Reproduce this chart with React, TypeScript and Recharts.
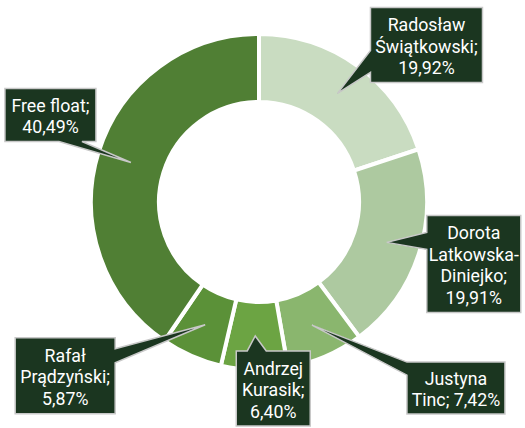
import React from 'react';
import { PieChart, Pie, Cell } from 'recharts';

// shareholders, clockwise from 12 o'clock
const NAMES = ['Radosław\nŚwiątkowski', 'Dorota\nLatkowska-\nDiniejko', 'Justyna\nTinc', 'Andrzej\nKurasik', 'Rafał\nPrądzyński', 'Free float'];
const SHARES = [19.92, 19.91, 7.42, 6.4, 5.87, 40.49];
// value goes on its own line (true) or after the name on the same line (false)
const VALUE_BREAK = [true, true, false, true, true, true];

const COLORS = ['#c9dcc1', '#adc9a0', '#8ab66e', '#6ca443', '#5b9138', '#507f34'];

// callout box placement relative to the pointer tip (layout, not data)
const CALLOUTS = [
  { dx: 33, dy: -86, w: 112, h: 75, edge: 'left', a: 43, b: 65 },
  { dx: 40, dy: -27, w: 94, h: 97, edge: 'left', a: 17, b: 34 },
  { dx: 95, dy: 37, w: 98, h: 52, edge: 'left', a: 0, b: 13 },
  { dx: -19, dy: 15, w: 74, h: 75, edge: 'top', a: 11, b: 30 },
  { dx: -190, dy: 13, w: 100, h: 76, edge: 'right', a: 11, b: 25 },
  { dx: -126, dy: -74, w: 91, h: 53, edge: 'bottom', a: 54, b: 77 },
];

const data = NAMES.map((name, i) => ({ name, value: SHARES[i] }));

const RADIAN = Math.PI / 180;
const fmt = (v: number) => v.toFixed(2).replace('.', ',') + '%';

const calloutPath = (x: number, y: number, w: number, h: number, edge: string, a: number, b: number, tx: number, ty: number) => {
  const TL = [x, y], TR = [x + w, y], BR = [x + w, y + h], BL = [x, y + h];
  let pts: number[][];
  if (edge === 'top') pts = [TL, [x + a, y], [tx, ty], [x + b, y], TR, BR, BL];
  else if (edge === 'right') pts = [TL, TR, [x + w, y + a], [tx, ty], [x + w, y + b], BR, BL];
  else if (edge === 'bottom') pts = [TL, TR, BR, [x + b, y + h], [tx, ty], [x + a, y + h], BL];
  else pts = [TL, TR, BR, BL, [x, y + b], [tx, ty], [x, y + a]];
  return 'M' + pts.map(p => p.join(',')).join('L') + 'Z';
};

const renderCallout = (props: any) => {
  const { cx, cy, midAngle, innerRadius, outerRadius, index } = props;
  const r = (innerRadius + outerRadius) / 2;
  const tx = cx + r * Math.cos(-midAngle * RADIAN);
  const ty = cy + r * Math.sin(-midAngle * RADIAN);
  const c = CALLOUTS[index];
  const x = tx + c.dx;
  const y = ty + c.dy;
  const text = NAMES[index] + ';' + (VALUE_BREAK[index] ? '\n' : ' ') + fmt(SHARES[index]);
  const lines = text.split('\n');
  const lh = 21.5;
  const y0 = y + c.h / 2 - ((lines.length - 1) * lh) / 2 + 1;
  return (
    <g key={`callout-${index}`}>
      <path d={calloutPath(x, y, c.w, c.h, c.edge, c.a, c.b, tx, ty)} fill="#1b3620" stroke="#c8c8c8" strokeWidth={1.5} strokeLinejoin="miter" />
      <g transform={`translate(${x + c.w / 2},0) scale(0.96,1)`}>
        <text x={0} textAnchor="middle" fill="#ffffff" fontFamily="Roboto, sans-serif" fontSize={18.5}>
          {lines.map((ln, i) => (
            <tspan key={i} x={0} y={y0 + i * lh} dominantBaseline="central">{ln}</tspan>
          ))}
        </text>
      </g>
    </g>
  );
};

export default function App() {
  return (
    <div style={{ position: 'absolute', left: 0, top: 0, background: '#ffffff' }}>
      <PieChart width={525} height={428} margin={{ top: 0, right: 0, bottom: 0, left: 0 }}>
        <Pie
          data={data}
          dataKey="value"
          nameKey="name"
          cx={259}
          cy={202}
          innerRadius={100}
          outerRadius={168}
          startAngle={90}
          endAngle={-270}
          stroke="#ffffff"
          strokeWidth={4}
          label={renderCallout}
          labelLine={false}
          isAnimationActive={false}
        >
          {data.map((d, i) => (
            <Cell key={`cell-${i}`} fill={COLORS[i]} />
          ))}
        </Pie>
      </PieChart>
    </div>
  );
}
